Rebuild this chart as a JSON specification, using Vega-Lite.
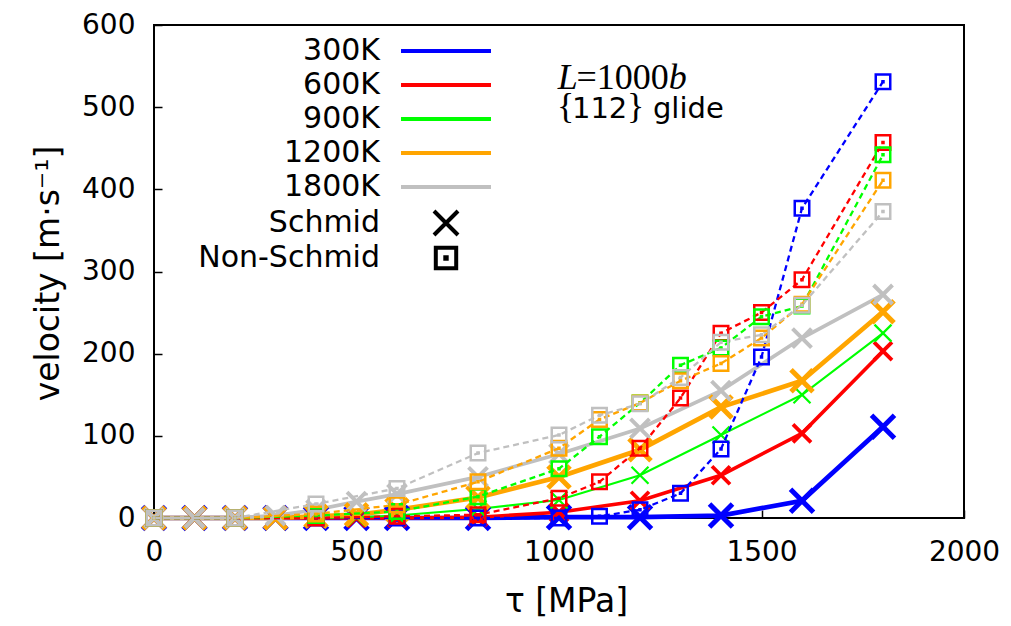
{
  "$schema": "https://vega.github.io/schema/vega-lite/v6.json",
  "width": 810,
  "height": 493,
  "autosize": "none",
  "padding": {"left": 154, "top": 25, "right": 47, "bottom": 108},
  "background": "white",
  "config": {
    "view": {"stroke": "black", "strokeWidth": 2},
    "font": "DejaVu Sans",
    "axis": {
      "grid": false,
      "domain": false,
      "tickColor": "black",
      "tickWidth": 1.5,
      "tickSize": -8,
      "labelFont": "DejaVu Sans",
      "labelFontSize": 28,
      "labelColor": "black",
      "labelFlush": false,
      "titleFont": "DejaVu Sans",
      "titleFontWeight": "normal",
      "titleColor": "black"
    }
  },
  "datasets": {
    "vel": [
      {"T":"300K","type":"Schmid","tau":0,"v":0},{"T":"300K","type":"Schmid","tau":100,"v":0},{"T":"300K","type":"Schmid","tau":200,"v":0},{"T":"300K","type":"Schmid","tau":300,"v":0},{"T":"300K","type":"Schmid","tau":400,"v":0},{"T":"300K","type":"Schmid","tau":500,"v":0},{"T":"300K","type":"Schmid","tau":600,"v":0},{"T":"300K","type":"Schmid","tau":800,"v":0},{"T":"300K","type":"Schmid","tau":1000,"v":1},{"T":"300K","type":"Schmid","tau":1200,"v":1},{"T":"300K","type":"Schmid","tau":1400,"v":3},{"T":"300K","type":"Schmid","tau":1600,"v":21},{"T":"300K","type":"Schmid","tau":1800,"v":111},
      {"T":"600K","type":"Schmid","tau":0,"v":0},{"T":"600K","type":"Schmid","tau":100,"v":0},{"T":"600K","type":"Schmid","tau":200,"v":0},{"T":"600K","type":"Schmid","tau":300,"v":0},{"T":"600K","type":"Schmid","tau":400,"v":0},{"T":"600K","type":"Schmid","tau":500,"v":0},{"T":"600K","type":"Schmid","tau":600,"v":0},{"T":"600K","type":"Schmid","tau":800,"v":1},{"T":"600K","type":"Schmid","tau":1000,"v":7},{"T":"600K","type":"Schmid","tau":1200,"v":21},{"T":"600K","type":"Schmid","tau":1400,"v":52},{"T":"600K","type":"Schmid","tau":1600,"v":103},{"T":"600K","type":"Schmid","tau":1800,"v":203},
      {"T":"900K","type":"Schmid","tau":0,"v":0},{"T":"900K","type":"Schmid","tau":100,"v":0},{"T":"900K","type":"Schmid","tau":200,"v":0},{"T":"900K","type":"Schmid","tau":300,"v":0},{"T":"900K","type":"Schmid","tau":400,"v":0},{"T":"900K","type":"Schmid","tau":500,"v":1},{"T":"900K","type":"Schmid","tau":600,"v":3},{"T":"900K","type":"Schmid","tau":800,"v":11},{"T":"900K","type":"Schmid","tau":1000,"v":22},{"T":"900K","type":"Schmid","tau":1200,"v":52},{"T":"900K","type":"Schmid","tau":1400,"v":101},{"T":"900K","type":"Schmid","tau":1600,"v":150},{"T":"900K","type":"Schmid","tau":1800,"v":225},
      {"T":"1200K","type":"Schmid","tau":0,"v":0},{"T":"1200K","type":"Schmid","tau":100,"v":0},{"T":"1200K","type":"Schmid","tau":200,"v":0},{"T":"1200K","type":"Schmid","tau":300,"v":0},{"T":"1200K","type":"Schmid","tau":400,"v":2},{"T":"1200K","type":"Schmid","tau":500,"v":4},{"T":"1200K","type":"Schmid","tau":600,"v":10},{"T":"1200K","type":"Schmid","tau":800,"v":25},{"T":"1200K","type":"Schmid","tau":1000,"v":50},{"T":"1200K","type":"Schmid","tau":1200,"v":83},{"T":"1200K","type":"Schmid","tau":1400,"v":135},{"T":"1200K","type":"Schmid","tau":1600,"v":167},{"T":"1200K","type":"Schmid","tau":1800,"v":251},
      {"T":"1800K","type":"Schmid","tau":0,"v":0},{"T":"1800K","type":"Schmid","tau":100,"v":0},{"T":"1800K","type":"Schmid","tau":200,"v":0},{"T":"1800K","type":"Schmid","tau":300,"v":3},{"T":"1800K","type":"Schmid","tau":400,"v":10},{"T":"1800K","type":"Schmid","tau":500,"v":20},{"T":"1800K","type":"Schmid","tau":600,"v":29},{"T":"1800K","type":"Schmid","tau":800,"v":50},{"T":"1800K","type":"Schmid","tau":1000,"v":78},{"T":"1800K","type":"Schmid","tau":1200,"v":109},{"T":"1800K","type":"Schmid","tau":1400,"v":155},{"T":"1800K","type":"Schmid","tau":1600,"v":219},{"T":"1800K","type":"Schmid","tau":1800,"v":272},
      {"T":"300K","type":"Non-Schmid","tau":0,"v":0},{"T":"300K","type":"Non-Schmid","tau":200,"v":0},{"T":"300K","type":"Non-Schmid","tau":400,"v":0},{"T":"300K","type":"Non-Schmid","tau":600,"v":0},{"T":"300K","type":"Non-Schmid","tau":800,"v":0},{"T":"300K","type":"Non-Schmid","tau":1000,"v":0},{"T":"300K","type":"Non-Schmid","tau":1100,"v":2},{"T":"300K","type":"Non-Schmid","tau":1200,"v":10},{"T":"300K","type":"Non-Schmid","tau":1300,"v":30},{"T":"300K","type":"Non-Schmid","tau":1400,"v":84},{"T":"300K","type":"Non-Schmid","tau":1500,"v":196},{"T":"300K","type":"Non-Schmid","tau":1600,"v":377},{"T":"300K","type":"Non-Schmid","tau":1800,"v":531},
      {"T":"600K","type":"Non-Schmid","tau":0,"v":0},{"T":"600K","type":"Non-Schmid","tau":200,"v":0},{"T":"600K","type":"Non-Schmid","tau":400,"v":0},{"T":"600K","type":"Non-Schmid","tau":600,"v":2},{"T":"600K","type":"Non-Schmid","tau":800,"v":4},{"T":"600K","type":"Non-Schmid","tau":1000,"v":24},{"T":"600K","type":"Non-Schmid","tau":1100,"v":44},{"T":"600K","type":"Non-Schmid","tau":1200,"v":85},{"T":"600K","type":"Non-Schmid","tau":1300,"v":146},{"T":"600K","type":"Non-Schmid","tau":1400,"v":225},{"T":"600K","type":"Non-Schmid","tau":1500,"v":250},{"T":"600K","type":"Non-Schmid","tau":1600,"v":290},{"T":"600K","type":"Non-Schmid","tau":1800,"v":457},
      {"T":"900K","type":"Non-Schmid","tau":0,"v":0},{"T":"900K","type":"Non-Schmid","tau":200,"v":0},{"T":"900K","type":"Non-Schmid","tau":400,"v":3},{"T":"900K","type":"Non-Schmid","tau":600,"v":8},{"T":"900K","type":"Non-Schmid","tau":800,"v":26},{"T":"900K","type":"Non-Schmid","tau":1000,"v":60},{"T":"900K","type":"Non-Schmid","tau":1100,"v":99},{"T":"900K","type":"Non-Schmid","tau":1200,"v":140},{"T":"900K","type":"Non-Schmid","tau":1300,"v":186},{"T":"900K","type":"Non-Schmid","tau":1400,"v":207},{"T":"900K","type":"Non-Schmid","tau":1500,"v":245},{"T":"900K","type":"Non-Schmid","tau":1600,"v":258},{"T":"900K","type":"Non-Schmid","tau":1800,"v":442},
      {"T":"1200K","type":"Non-Schmid","tau":0,"v":0},{"T":"1200K","type":"Non-Schmid","tau":200,"v":0},{"T":"1200K","type":"Non-Schmid","tau":400,"v":5},{"T":"1200K","type":"Non-Schmid","tau":600,"v":16},{"T":"1200K","type":"Non-Schmid","tau":800,"v":44},{"T":"1200K","type":"Non-Schmid","tau":1000,"v":85},{"T":"1200K","type":"Non-Schmid","tau":1100,"v":120},{"T":"1200K","type":"Non-Schmid","tau":1200,"v":140},{"T":"1200K","type":"Non-Schmid","tau":1300,"v":167},{"T":"1200K","type":"Non-Schmid","tau":1400,"v":188},{"T":"1200K","type":"Non-Schmid","tau":1500,"v":219},{"T":"1200K","type":"Non-Schmid","tau":1600,"v":260},{"T":"1200K","type":"Non-Schmid","tau":1800,"v":411},
      {"T":"1800K","type":"Non-Schmid","tau":0,"v":0},{"T":"1800K","type":"Non-Schmid","tau":200,"v":0},{"T":"1800K","type":"Non-Schmid","tau":400,"v":17},{"T":"1800K","type":"Non-Schmid","tau":600,"v":36},{"T":"1800K","type":"Non-Schmid","tau":800,"v":79},{"T":"1800K","type":"Non-Schmid","tau":1000,"v":101},{"T":"1800K","type":"Non-Schmid","tau":1100,"v":125},{"T":"1800K","type":"Non-Schmid","tau":1200,"v":139},{"T":"1800K","type":"Non-Schmid","tau":1300,"v":171},{"T":"1800K","type":"Non-Schmid","tau":1400,"v":214},{"T":"1800K","type":"Non-Schmid","tau":1500,"v":223},{"T":"1800K","type":"Non-Schmid","tau":1600,"v":259},{"T":"1800K","type":"Non-Schmid","tau":1800,"v":373}
    ],
    "notesItalic": [
      {"tau": 997, "v": 522, "label": "L"},
      {"tau": 1271, "v": 522, "label": "b"}
    ],
    "notesSerif": [
      {"tau": 1043, "v": 522, "label": "=1000"},
      {"tau": 995, "v": 487, "label": "{"},
      {"tau": 1168, "v": 487, "label": "}"}
    ],
    "notesSans": [
      {"tau": 1032, "v": 487, "label": "112"},
      {"tau": 1232, "v": 487, "label": "glide"}
    ]
  },
  "layer": [
    {
      "data": {"name": "vel"},
      "transform": [{"filter": "datum.type === 'Schmid'"}],
      "mark": {"type": "line"},
      "encoding": {
        "x": {"field": "tau", "type": "quantitative", "scale": {"domain": [0, 2000], "nice": false},
              "axis": {"values": [0, 500, 1000, 1500, 2000], "format": "d", "title": "τ [MPa]", "titleFontSize": 33, "labelPadding": 28, "titleX": 412, "titleY": 93, "titleBaseline": "alphabetic", "titleAnchor": "middle", "titleAlign": "center"}},
        "y": {"field": "v", "type": "quantitative", "scale": {"domain": [0, 600], "nice": false},
              "axis": {"values": [0, 100, 200, 300, 400, 500, 600], "format": "d", "title": "velocity [m·s⁻¹]", "titleFontSize": 33, "labelPadding": 27, "titleX": -106, "titleY": 248, "titleAngle": 270, "titleBaseline": "middle", "titleAlign": "center"}},
        "color": {"field": "T", "type": "nominal",
                  "scale": {"domain": ["300K", "600K", "900K", "1200K", "1800K"], "range": ["#0000ff", "#ff0000", "#00ff00", "#ffa500", "#c0c0c0"]},
                  "legend": {"orient": "none", "legendX": 277, "legendY": 11, "title": null, "symbolType": "M-4,0H4", "symbolSize": 506, "symbolStrokeWidth": 4, "symbolFillColor": "transparent", "labelFont": "DejaVu Sans", "labelFontSize": 30, "labelColor": "black", "labelLimit": 0, "labelAlign": "right", "labelOffset": -81, "rowPadding": 4, "padding": 0,
                             "encode": {"symbols": {"update": {"strokeWidth": {"value": 4}}}}}},
        "strokeWidth": {"condition": [
          {"test": "datum.T === '300K'", "value": 4.7},
          {"test": "datum.T === '600K'", "value": 3.6},
          {"test": "datum.T === '900K'", "value": 2.1},
          {"test": "datum.T === '1200K'", "value": 4.7}
        ], "value": 3.7}
      }
    },
    {
      "data": {"name": "vel"},
      "transform": [{"filter": "datum.type === 'Schmid'"}],
      "mark": {"type": "point", "filled": false, "opacity": 1},
      "encoding": {
        "x": {"field": "tau", "type": "quantitative"},
        "y": {"field": "v", "type": "quantitative"},
        "color": {"field": "T", "type": "nominal"},
        "shape": {"field": "type", "type": "nominal",
                  "scale": {"domain": ["Schmid", "Non-Schmid"], "range": ["M-1.2,-1.2L1.2,1.2M-1.2,1.2L1.2,-1.2", "M-1.02,-1.02H1.02V1.02H-1.02Z M-0.07,-0.07H0.07V0.07H-0.07Z"]},
                  "legend": {"orient": "none", "legendX": 277, "legendY": 183, "title": null, "symbolSize": 400, "symbolStrokeWidth": 4, "symbolStrokeColor": "black", "symbolFillColor": "transparent", "labelFont": "DejaVu Sans", "labelFontSize": 30, "labelColor": "black", "labelLimit": 0, "labelAlign": "right", "labelOffset": -81, "rowPadding": -9, "padding": 0,
                             "encode": {"symbols": {"update": {"strokeWidth": {"value": 4}, "stroke": {"value": "black"}}}}}},
        "size": {"condition": [
          {"test": "datum.T === '300K'", "value": 367},
          {"test": "datum.T === '600K'", "value": 225},
          {"test": "datum.T === '900K'", "value": 200},
          {"test": "datum.T === '1200K'", "value": 336}
        ], "value": 250},
        "strokeWidth": {"condition": [
          {"test": "datum.T === '300K'", "value": 5},
          {"test": "datum.T === '600K'", "value": 3.8},
          {"test": "datum.T === '900K'", "value": 2.2},
          {"test": "datum.T === '1200K'", "value": 5}
        ], "value": 4}
      }
    },
    {
      "data": {"name": "vel"},
      "transform": [{"filter": "datum.type === 'Non-Schmid'"}],
      "mark": {"type": "line", "strokeDash": [6, 4], "strokeWidth": 2.3},
      "encoding": {
        "x": {"field": "tau", "type": "quantitative"},
        "y": {"field": "v", "type": "quantitative"},
        "color": {"field": "T", "type": "nominal"}
      }
    },
    {
      "data": {"name": "vel"},
      "transform": [{"filter": "datum.type === 'Non-Schmid'"}],
      "mark": {"type": "point", "filled": false, "opacity": 1, "size": 202, "strokeWidth": 2.5},
      "encoding": {
        "x": {"field": "tau", "type": "quantitative"},
        "y": {"field": "v", "type": "quantitative"},
        "color": {"field": "T", "type": "nominal"},
        "shape": {"field": "type", "type": "nominal"}
      }
    },
    {
      "data": {"name": "notesItalic"},
      "mark": {"type": "text", "font": "Liberation Serif", "fontStyle": "italic", "fontSize": 36, "align": "left", "baseline": "alphabetic", "color": "black"},
      "encoding": {
        "x": {"field": "tau", "type": "quantitative"},
        "y": {"field": "v", "type": "quantitative"},
        "text": {"field": "label"}
      }
    },
    {
      "data": {"name": "notesSerif"},
      "mark": {"type": "text", "font": "Liberation Serif", "fontSize": 36, "align": "left", "baseline": "alphabetic", "color": "black"},
      "encoding": {
        "x": {"field": "tau", "type": "quantitative"},
        "y": {"field": "v", "type": "quantitative"},
        "text": {"field": "label"}
      }
    },
    {
      "data": {"name": "notesSans"},
      "mark": {"type": "text", "font": "DejaVu Sans", "fontSize": 29, "align": "left", "baseline": "alphabetic", "color": "black"},
      "encoding": {
        "x": {"field": "tau", "type": "quantitative"},
        "y": {"field": "v", "type": "quantitative"},
        "text": {"field": "label"}
      }
    }
  ]
}
